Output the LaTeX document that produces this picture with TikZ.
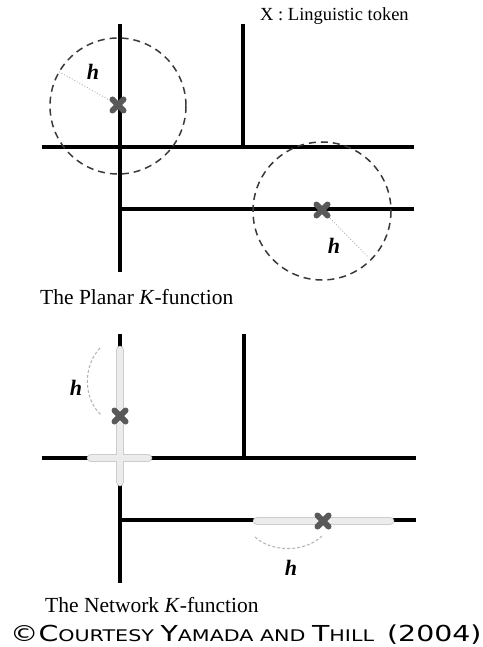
\documentclass[tikz,border=0pt]{standalone}
\usepackage{fontspec}
\setmainfont{Liberation Serif}
\newfontfamily\capsfont{DejaVu Sans}
\newcommand{\tokmark}[2]{%
  \draw[tokenmark] (#1,#2) ++(-5.5,-5.5) -- ++(11,11);
  \draw[tokenmark] (#1,#2) ++(-5.5,5.5) -- ++(11,-11);}
\begin{document}
\begin{tikzpicture}[x=1pt,y=-1pt,
  road/.style={line width=3.2pt, black},
  buffer/.style={line width=1.5pt, gray!45!black, dash pattern=on 7pt off 5pt},
  radline/.style={line width=0.9pt, gray!60, dotted},
  tokenmark/.style={line width=6pt, gray!70!black, line cap=round},
  hlout/.style={line width=8.5pt, gray!40, line cap=round},
  hlin/.style={line width=6.5pt, gray!15, line cap=round},
  arcline/.style={line width=1pt, gray!60, dash pattern=on 3pt off 2pt},
  hlab/.style={font=\fontsize{22}{22}\selectfont\bfseries\itshape, inner sep=0pt},
  captext/.style={font=\fontsize{21.5}{22}\selectfont, anchor=west, inner sep=0pt}]
\useasboundingbox (0,0) rectangle (482,647);
\fill[white] (0,0) rectangle (482,647);
% ---------- Planar ----------
\node[anchor=west, inner sep=0pt, font=\fontsize{18.5}{19}\selectfont] (legend) at (260,16) {X : Linguistic token};
\draw[road] (120,24) -- (120,272);
\draw[road] (243,24) -- (243,148);
\draw[road] (42,147) -- (414,147);
\draw[road] (120,209) -- (414,209);
\draw[buffer] (118,106) circle[radius=68];
\draw[buffer] (322,211) circle[radius=69];
\draw[radline] (118,105) -- (58,71);
\draw[radline] (322,210) -- (368,257);
\tokmark{118}{105}
\tokmark{322}{210}
\node[hlab] (h1) at (93,72) {h};
\node[hlab] (h2) at (334,246) {h};
\node[captext] (planar) at (40,297) {The Planar \textit{K}-function};
% ---------- Network ----------
\draw[road] (120,334) -- (120,583);
\draw[road] (244,334) -- (244,459);
\draw[road] (42,458) -- (416,458);
\draw[road] (120,520) -- (416,520);
\draw[hlout] (91,458) -- (148,458);
\draw[hlout] (120,350) -- (120,482);
\draw[hlout] (257,521) -- (390,521);
\draw[hlin] (91,458) -- (148,458);
\draw[hlin] (120,350) -- (120,482);
\draw[hlin] (257,521) -- (390,521);
\draw[arcline] (100,348) .. controls (83,366) and (83,398) .. (101,415);
\draw[arcline] (255,537) .. controls (272,553) and (306,552) .. (322,536);
\tokmark{120}{416}
\tokmark{323}{521}
\node[hlab] (h3) at (76,388) {h};
\node[hlab] (h4) at (291,568) {h};
\node[captext] (network) at (45,605) {The Network \textit{K}-function};
\node[anchor=west, inner sep=0pt] (credit) at (10,635) {\scalebox{1.29}[1]{\capsfont
  \fontsize{22}{22}\selectfont\textcopyright C\fontsize{16}{16}\selectfont OURTESY
  \fontsize{22}{22}\selectfont Y\fontsize{16}{16}\selectfont AMADA AND
  \fontsize{22}{22}\selectfont T\fontsize{16}{16}\selectfont HILL\ \ \fontsize{22}{22}\selectfont(2004)}};
\end{tikzpicture}
\end{document}
